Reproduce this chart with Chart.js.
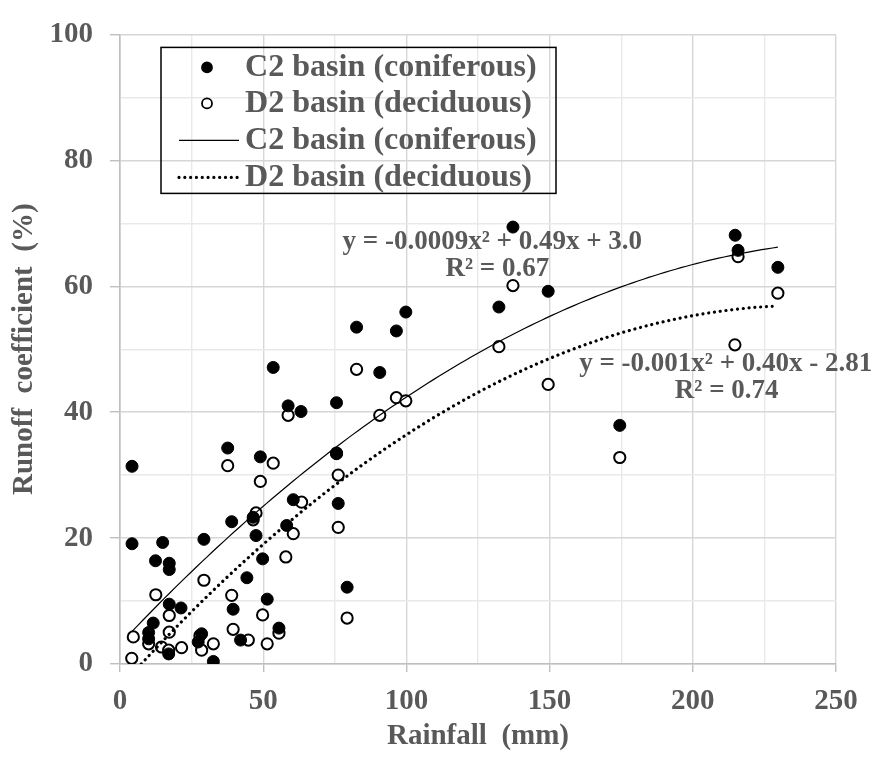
<!DOCTYPE html>
<html>
<head>
<meta charset="utf-8">
<script src="https://cdn.jsdelivr.net/npm/chart.js@4.4.1/dist/chart.umd.min.js"></script>
<style>
  html, body { margin: 0; padding: 0; background: #ffffff; }
  #wrap { width: 880px; height: 758px; position: relative; }
</style>
</head>
<body>
<div id="wrap"><canvas id="chart" width="880" height="758"></canvas></div>
<script>
// Rainfall events (mm) and runoff coefficients (%) for each basin
const c2Rain = [4.2, 4.2, 10.0, 10.0, 11.6, 12.4, 14.9, 17.2, 17.2, 17.2, 17.0, 21.3, 27.3, 28.5, 29.3, 32.6,
  37.6, 39.0, 39.5, 42.1, 44.3, 46.5, 47.5, 49.0, 49.8, 51.4, 53.5, 55.5, 58.2, 58.7, 60.5, 63.2,
  75.6, 75.6, 76.2, 79.3, 82.6, 90.7, 96.5, 99.8, 132.3, 137.2, 149.5, 174.5, 214.8, 215.8, 229.7];
const c2Runoff = [31.4, 19.1, 5.0, 4.0, 6.5, 16.4, 19.3, 16.0, 15.0, 9.5, 1.6, 8.9, 3.5, 4.8, 19.8, 0.4,
  34.3, 22.6, 8.7, 3.8, 13.7, 23.3, 20.4, 32.9, 16.7, 10.3, 47.1, 5.7, 22.0, 41.0, 26.1, 40.1,
  41.5, 33.4, 25.5, 12.2, 53.5, 46.3, 52.9, 55.9, 56.7, 69.4, 59.2, 37.9, 68.1, 65.7, 63.0];

const d2Rain = [4.65, 4.1, 10.0, 12.5, 14.5, 17.2, 17.2, 17.0, 21.5, 27.9, 28.5, 29.3, 32.6, 37.6, 39.0,
  39.5, 44.8, 46.5, 47.5, 49.0, 49.8, 51.4, 53.5, 55.5, 57.9, 58.7, 60.5, 63.4, 75.6, 76.2, 76.2,
  79.3, 82.6, 90.7, 96.5, 99.8, 132.3, 137.2, 149.5, 174.5, 214.7, 215.8, 229.7];
const d2Runoff = [4.3, 0.9, 3.2, 11.0, 2.7, 7.7, 5.05, 2.2, 2.6, 4.5, 2.2, 13.3, 3.2, 31.5, 10.9,
  5.5, 3.8, 22.9, 24.0, 29.0, 7.8, 3.2, 31.9, 4.9, 17.0, 39.5, 20.7, 25.7, 33.5, 30.0, 21.7,
  7.3, 46.8, 39.5, 42.3, 41.8, 50.4, 60.1, 44.4, 32.8, 50.7, 64.7, 58.9];

const seriesNames = ['C2 basin (coniferous)', 'D2 basin (deciduous)'];
const c2Equation = ['y = -0.0009x² + 0.49x + 3.0', 'R² = 0.67'];
const d2Equation = ['y = -0.001x² + 0.40x - 2.81', 'R² = 0.74'];

const xTickLabels = [0, 50, 100, 150, 200, 250];
const yTickLabels = [0, 20, 40, 60, 80, 100];

const GREY = '#595959';
const SERIF = "'Times New Roman', 'Liberation Serif', serif";

// Second-order least-squares fit of y on x (polynomial trendline)
function quadFit(xs, ys) {
  let s = [0, 0, 0, 0, 0], t = [0, 0, 0];
  for (let i = 0; i < xs.length; i++) {
    const x = xs[i], y = ys[i];
    let p = 1;
    for (let k = 0; k < 5; k++) { s[k] += p; if (k < 3) t[k] += p * y; p *= x; }
  }
  const m = [[s[0], s[1], s[2], t[0]], [s[1], s[2], s[3], t[1]], [s[2], s[3], s[4], t[2]]];
  for (let i = 0; i < 3; i++) {
    for (let j = i + 1; j < 3; j++) {
      const f = m[j][i] / m[i][i];
      for (let k = i; k < 4; k++) m[j][k] -= f * m[i][k];
    }
  }
  const c = [0, 0, 0];
  for (let i = 2; i >= 0; i--) {
    let v = m[i][3];
    for (let k = i + 1; k < 3; k++) v -= m[i][k] * c[k];
    c[i] = v / m[i][i];
  }
  return c; // [c0, c1, c2]
}

// Trendline path across the rainfall range, kept above the 0 % floor
function trendPoints(xs, ys) {
  const [c0, c1, c2] = quadFit(xs, ys);
  const f = x => c0 + c1 * x + c2 * x * x;
  const lo = Math.min(...xs), hi = Math.max(...xs);
  const pts = [];
  const n = 120;
  let prevX = null;
  for (let i = 0; i <= n; i++) {
    const x = lo + (hi - lo) * i / n;
    const y = f(x);
    if (y < 0) { prevX = x; continue; }
    if (prevX !== null && pts.length === 0) {
      // bisect the zero crossing so the curve starts on the axis
      let a = prevX, b = x;
      for (let k = 0; k < 30; k++) { const mid = (a + b) / 2; if (f(mid) < 0) a = mid; else b = mid; }
      pts.push({ x: b, y: 0 });
    }
    pts.push({ x, y });
  }
  return pts;
}

const toXY = (xs, ys) => xs.map((x, i) => ({ x, y: ys[i] }));

// Boxed legend drawn inside the plot area
const boxLegend = {
  id: 'boxLegend',
  afterDraw(chart) {
    const { ctx, chartArea: a } = chart;
    const left = a.left + 41, top = a.top + 13, w = 395, h = 146;
    ctx.save();
    ctx.strokeStyle = '#000000';
    ctx.lineWidth = 1.5;
    ctx.strokeRect(left, top, w, h);
    const order = [2, 3, 0, 1];
    const rows = [20, 56, 93, 130];
    ctx.font = 'bold 31px ' + SERIF;
    ctx.textBaseline = 'middle';
    ctx.textAlign = 'left';
    order.forEach((di, r) => {
      const ds = chart.data.datasets[di];
      const y = top + rows[r];
      if (ds.showLine) {
        ctx.beginPath();
        ctx.strokeStyle = ds.borderColor;
        ctx.lineWidth = ds.borderWidth;
        ctx.lineCap = ds.borderCapStyle || 'butt';
        ctx.setLineDash(ds.borderDash || []);
        ctx.moveTo(left + 18, y);
        ctx.lineTo(left + 78, y);
        ctx.stroke();
        ctx.setLineDash([]);
        ctx.lineCap = 'butt';
      } else {
        ctx.beginPath();
        ctx.arc(left + 46, y, 5, 0, Math.PI * 2);
        ctx.fillStyle = ds.backgroundColor;
        ctx.fill();
        ctx.lineWidth = 1.8;
        ctx.strokeStyle = ds.borderColor;
        ctx.stroke();
      }
      ctx.save();
      ctx.translate(left + 84, y + 1);
      ctx.scale(1.035, 1);
      ctx.fillStyle = GREY;
      ctx.fillText(ds.label, 0, 0);
      ctx.restore();
    });
    ctx.restore();
  }
};

// Trendline equations placed beside each curve
const equationLabels = {
  id: 'equationLabels',
  afterDraw(chart) {
    const { ctx } = chart;
    const sx = chart.scales.x, sy = chart.scales.y;
    const put = (lines, xv, yv, dx2) => {
      const x = sx.getPixelForValue(xv), y = sy.getPixelForValue(yv);
      ctx.fillText(lines[0], x, y);
      ctx.fillText(lines[1], x + dx2, y + 27);
    };
    ctx.save();
    ctx.font = 'bold 27px ' + SERIF;
    ctx.fillStyle = GREY;
    ctx.textAlign = 'center';
    ctx.textBaseline = 'middle';
    put(c2Equation, 130.0, 67.1, 5);
    put(d2Equation, 211.5, 47.7, 1);
    ctx.restore();
  }
};

const tickFont = { family: SERIF, size: 29, weight: 'bold' };

new Chart(document.getElementById('chart'), {
  type: 'scatter',
  data: {
    datasets: [
      {
        label: seriesNames[0],
        data: trendPoints(c2Rain, c2Runoff),
        showLine: true,
        borderColor: '#000000',
        borderWidth: 1.2,
        pointRadius: 0,
        tension: 0
      },
      {
        label: seriesNames[1],
        data: trendPoints(d2Rain, d2Runoff),
        showLine: true,
        borderColor: '#000000',
        borderWidth: 3.2,
        borderDash: [0.01, 5.8],
        borderCapStyle: 'round',
        pointRadius: 0,
        tension: 0
      },
      {
        label: seriesNames[0],
        data: toXY(c2Rain, c2Runoff),
        backgroundColor: '#000000',
        borderColor: '#000000',
        borderWidth: 1,
        pointRadius: 6
      },
      {
        label: seriesNames[1],
        data: toXY(d2Rain, d2Runoff),
        backgroundColor: '#ffffff',
        borderColor: '#000000',
        borderWidth: 2,
        pointRadius: 5.6
      }
    ]
  },
  options: {
    responsive: false,
    animation: false,
    events: [],
    layout: { padding: { top: 24, right: 44, left: 0, bottom: 0 } },
    plugins: { legend: { display: false }, tooltip: { enabled: false } },
    scales: {
      x: {
        type: 'linear',
        min: 0, max: 250,
        afterBuildTicks: s => {
          const t = [];
          for (let v = 0; v <= 250; v += 25) t.push({ value: v });
          s.ticks = t;
        },
        afterFit: s => { s.height = 94; },
        ticks: {
          autoSkip: false, maxRotation: 0, padding: 12,
          font: tickFont, color: GREY,
          callback: v => (xTickLabels.includes(v) ? String(v) : '')
        },
        grid: {
          color: c => (c.tick && xTickLabels.includes(c.tick.value) ? '#d6d6d6' : '#e9e9e9'),
          lineWidth: 1.4,
          tickLength: 8,
          tickColor: c => (c.tick && xTickLabels.includes(c.tick.value) ? '#bfbfbf' : 'rgba(0,0,0,0)')
        },
        border: { color: '#bfbfbf', width: 1.6 },
        title: {
          display: true, text: 'Rainfall  (mm)', color: GREY,
          font: { family: SERIF, size: 29, weight: 'bold' },
          padding: { top: 0, bottom: 4 }
        }
      },
      y: {
        type: 'linear',
        min: 0, max: 100,
        afterBuildTicks: s => {
          const t = [];
          for (let v = 0; v <= 100; v += 10) t.push({ value: v });
          s.ticks = t;
        },
        afterFit: s => { s.width = 120; },
        ticks: {
          autoSkip: false, padding: 17,
          font: tickFont, color: GREY,
          callback: v => (yTickLabels.includes(v) ? String(v) : '')
        },
        grid: {
          color: c => (c.tick && yTickLabels.includes(c.tick.value) ? '#d6d6d6' : '#e9e9e9'),
          lineWidth: 1.4,
          tickLength: 10,
          tickColor: c => (c.tick && yTickLabels.includes(c.tick.value) ? '#bfbfbf' : 'rgba(0,0,0,0)')
        },
        border: { color: '#bfbfbf', width: 1.6 },
        title: {
          display: true, text: 'Runoff  coefficient  (%)', color: GREY,
          font: { family: SERIF, size: 29, weight: 'bold' },
          padding: { top: 7, bottom: 0 }
        }
      }
    }
  },
  plugins: [boxLegend, equationLabels]
});
</script>
</body>
</html>
